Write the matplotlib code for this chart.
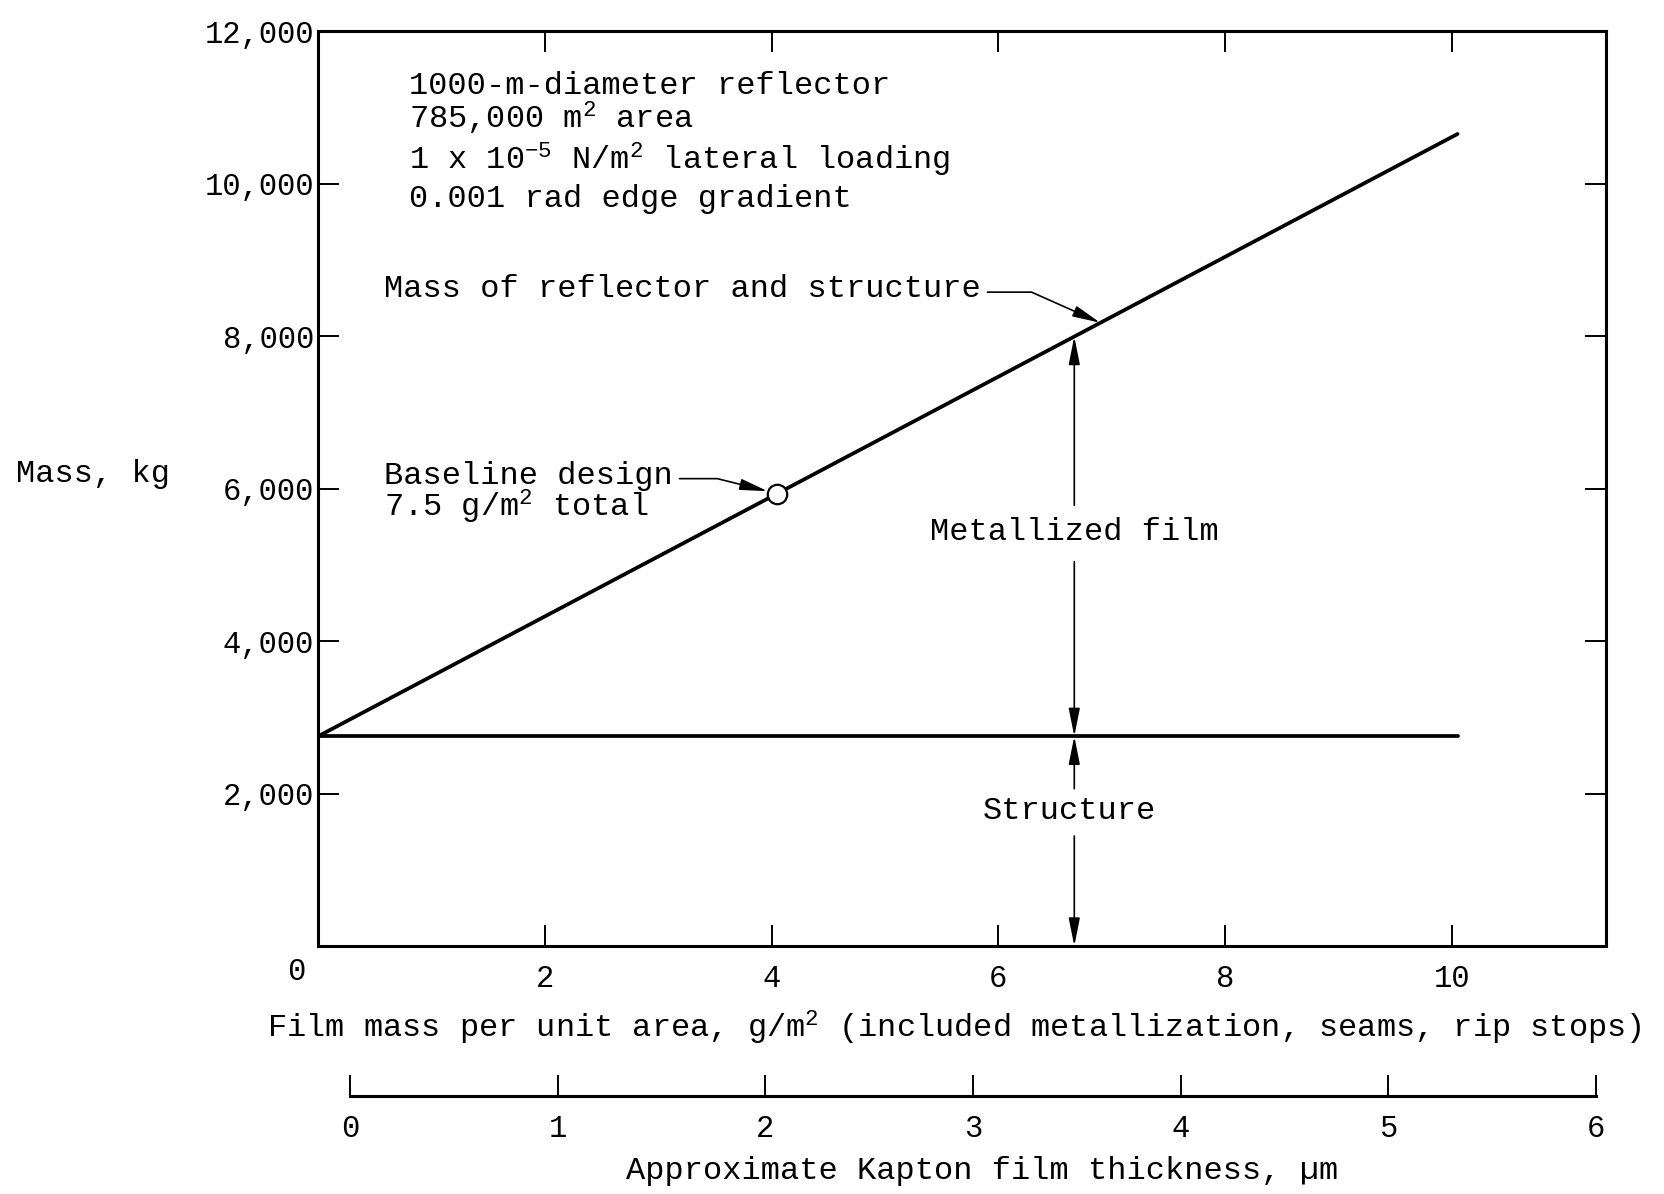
import numpy as np
import matplotlib
matplotlib.use("Agg")
import matplotlib.pyplot as plt

plt.rcParams['font.family'] = ['Liberation Mono', 'DejaVu Sans Mono']
plt.rcParams['mathtext.default'] = 'regular'
plt.rcParams['font.size'] = 23

# data
film_mass = [0.0, 10.05]            # g/m^2
total_mass = [2750, 10650]          # kg, reflector + structure
structure_mass = [2750, 2750]       # kg
baseline_x = 4.05                   # 7.5 g/m^2 total
divider_x = 6.67                    # where the dimension arrows sit

xticks = [2, 4, 6, 8, 10]
yticks = [2000, 4000, 6000, 8000, 10000, 12000]
ytick_labels = ['2,000', '4,000', '6,000', '8,000', '10,000', '12,000']
kapton_ticks = [0, 1, 2, 3, 4, 5, 6]

notes = ['1000-m-diameter reflector',
         '785,000 m$^{2}$ area',
         '1 x 10$^{-5}$ N/m$^{2}$ lateral loading',
         '0.001 rad edge gradient']
notes_y = [11180, 10720, 10180, 9690]

fig = plt.figure(figsize=(16.65, 11.94), dpi=100)
ax = fig.add_axes([0.191, 0.2077, 0.7736, 0.7663])

ax.plot(film_mass, total_mass, color='black', lw=2.7, solid_capstyle='round')
ax.plot(film_mass, structure_mass, color='black', lw=2.7, solid_capstyle='round')

base_y = np.interp(baseline_x, film_mass, total_mass)
ax.plot([baseline_x], [base_y], marker='o', ms=14, mfc='white', mec='black', mew=1.6)

ax.set_xlim(0, 11.36)
ax.set_ylim(0, 12000)
ax.set_xticks(xticks)
ax.set_xticklabels([str(t) for t in xticks])
ax.set_yticks(yticks)
ax.set_yticklabels(ytick_labels)
ax.tick_params(axis='both', direction='in', length=15, width=1.4,
               top=True, right=True, labelsize=22)
ax.tick_params(axis='x', pad=13)
ax.tick_params(axis='y', pad=3)
for s in ax.spines.values():
    s.set_linewidth(2.2)

ax.annotate('0', xy=(0, 0), xytext=(-16, -19), textcoords='offset points',
            ha='center', va='center', fontsize=22)

ax.set_ylabel('Mass, kg', rotation=0, ha='left', va='center')
ax.yaxis.set_label_coords(-0.2345, 0.516)
ax.set_xlabel('Film mass per unit area, g/m$^{2}$ (included metallization, seams, rip stops)')
ax.xaxis.label.set_va('center')
ax.xaxis.set_label_coords(0.494, -0.09)

for txt, ty in zip(notes, notes_y):
    ax.text(0.80, ty, txt, ha='left', va='baseline')

head = '-|>,head_length=0.85,head_width=0.17'

# leader to the upper line
tip_x = 6.9
ax.annotate('Mass of reflector and structure', xy=(tip_x, np.interp(tip_x, film_mass, total_mass)),
            xytext=(0.58, 8510), ha='left', va='baseline',
            arrowprops=dict(arrowstyle=head, mutation_scale=20, color='black', lw=1.2,
                            relpos=(1.0, 0.4), shrinkA=3, shrinkB=0,
                            connectionstyle='angle,angleA=0,angleB=-24,rad=0'))

# leader to the baseline point
ax.annotate('Baseline design', xy=(baseline_x, base_y),
            xytext=(0.58, 6064), ha='left', va='baseline',
            arrowprops=dict(arrowstyle=head, mutation_scale=20, color='black', lw=1.2,
                            relpos=(1.0, 0.4), shrinkA=3, shrinkB=7,
                            connectionstyle='angle,angleA=0,angleB=-14,rad=0'))
ax.text(0.58, 5633, '7.5 g/m$^{2}$ total', ha='left', va='baseline')

# dimension arrows
top_y = np.interp(divider_x, film_mass, total_mass)
str_y = np.interp(divider_x, film_mass, structure_mass)
metal_y = 5430
struct_y = 1773
arr = dict(arrowstyle=head, mutation_scale=20, color='black', lw=1.2, shrinkA=0, shrinkB=0)
ax.text(divider_x, metal_y, 'Metallized film', ha='center', va='center')
ax.annotate('', xy=(divider_x, top_y), xytext=(divider_x, metal_y + 350), arrowprops=arr)
ax.annotate('', xy=(divider_x, str_y), xytext=(divider_x, metal_y - 390), arrowprops=arr)
ax.text(divider_x - 0.04, struct_y, 'Structure', ha='center', va='center')
ax.annotate('', xy=(divider_x, str_y), xytext=(divider_x, struct_y + 290), arrowprops=arr)
ax.annotate('', xy=(divider_x, 0), xytext=(divider_x, struct_y - 330), arrowprops=arr)

# second scale: Kapton thickness
ax2 = fig.add_axes([0.2102, 0.082, 0.7484, 0.03])
ax2.set_xlim(0, 6)
ax2.set_yticks([])
for side in ['top', 'left', 'right']:
    ax2.spines[side].set_visible(False)
ax2.spines['bottom'].set_linewidth(2.2)
ax2.patch.set_alpha(0)
ax2.set_xticks(kapton_ticks)
ax2.set_xticklabels([str(t) for t in kapton_ticks])
ax2.tick_params(axis='x', direction='in', length=15, width=1.4, pad=13, labelsize=22)
ax2.text(0.590, 0.0193, 'Approximate Kapton film thickness, µm', ha='center', va='center',
         transform=fig.transFigure)

fig.savefig('out.png', dpi=100)
